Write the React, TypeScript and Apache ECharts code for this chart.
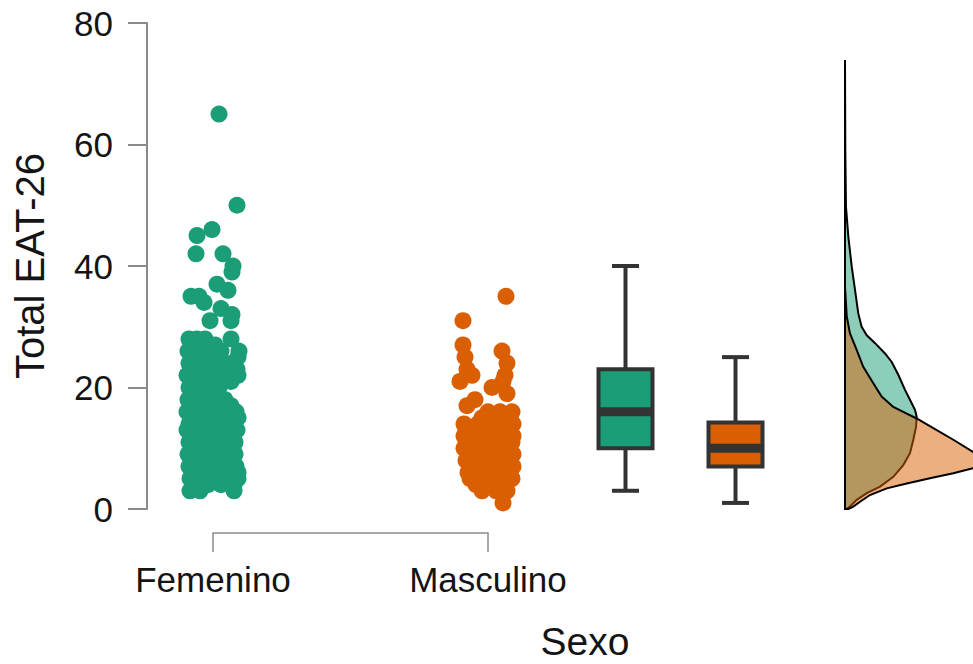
import React, { useEffect, useRef } from 'react';
import * as echarts from 'echarts';

const categories = ['Femenino', 'Masculino'];
const yMin = 0;
const yMax = 80;
const yInterval = 20;

// Each row: [Total EAT-26 value, horizontal jitter offsets of the points at that value]
// jitter is expressed in 1/275 of the spacing between the two categories
const femeninoRows: [number, number[]][] = [
  [65, [6]],
  [50, [24]],
  [46, [-1]],
  [45, [-16]],
  [42, [-17, 10]],
  [40, [20]],
  [39, [19]],
  [37, [4]],
  [36, [15]],
  [35, [-22, -14]],
  [34, [-9]],
  [33, [8]],
  [32, [19]],
  [31, [-3, 18]],
  [28, [-24, -16, -8, 18]],
  [27, [-22, -11, 2]],
  [26, [-25, -14, -3, 8, 26]],
  [25, [-20, -6, 5, 25]],
  [24, [-24, -13, 0, 11, 19]],
  [23, [-18, -6, 6, 24]],
  [22, [-26, -14, -2, 10, 25]],
  [21, [-21, -8, 3, 18]],
  [20, [-24, -12, 0, 6]],
  [19, [-19, -6, 5]],
  [18, [-25, -14, 2, 12]],
  [17, [-22, -5, 8, 18]],
  [16, [-26, -11, 2, 14, 23]],
  [15, [-19, -6, 6, 25]],
  [14, [-24, -12, 0, 11, 21]],
  [13, [-26, -16, -3, 8, 24]],
  [12, [-21, -8, 3, 16]],
  [11, [-24, -13, 2, 13, 22]],
  [10, [-18, -5, 8, 20]],
  [9, [-25, -11, 0, 11, 22]],
  [8, [-21, -6, 5, 18]],
  [7, [-24, -14, -2, 10, 23]],
  [6, [-19, -8, 3, 16, 25]],
  [5, [-23, -11, 0, 13, 25]],
  [4, [-16, -5, 8, 21]],
  [3, [-23, -13, 21]],
];

const masculinoRows: [number, number[]][] = [
  [35, [18]],
  [31, [-25]],
  [27, [-25]],
  [26, [14]],
  [25, [-23]],
  [24, [19]],
  [23, [-21]],
  [22, [-16, 17]],
  [21, [-28, 15]],
  [20, [4]],
  [19, [19]],
  [18, [-13]],
  [17, [-21]],
  [16, [0, 12, 24]],
  [15, [-6, 8, 22]],
  [14, [-24, -10, 4, 18, 25]],
  [13, [-22, -8, 6, 20]],
  [12, [-24, -12, 2, 14, 25]],
  [11, [-20, -4, 10, 24]],
  [10, [-24, -10, 4, 18]],
  [9, [-18, -4, 10, 25]],
  [8, [-22, -8, 6, 20]],
  [7, [-16, -2, 12, 25]],
  [6, [-20, -6, 8, 22]],
  [5, [-18, -4, 10, 24]],
  [4, [-12, 2, 16]],
  [3, [-6, 8, 19]],
  [1, [15]],
];

// Box plot statistics: [min, Q1, median, Q3, max]
const femeninoBox = [3, 10, 16, 23, 40];
const masculinoBox = [1, 7, 10, 14.25, 25];

// Density curves: [value, density]
const femeninoDensity: [number, number][] = [
  [73.9, 0], [59.1, 0.0002], [49.8, 0.0006], [44.8, 0.0021], [39.9, 0.0042],
  [36.0, 0.0063], [32.2, 0.0083], [30.0, 0.0104], [28.6, 0.0136], [27.3, 0.0188],
  [25.6, 0.025], [24.2, 0.0292], [22.1, 0.0333], [19.6, 0.0375], [17.4, 0.0417],
  [16.3, 0.0438], [15.2, 0.0448], [13.5, 0.0444], [11.4, 0.0427], [9.2, 0.0406],
  [7.2, 0.0364], [5.3, 0.0302], [3.7, 0.0219], [2.6, 0.0136], [1.5, 0.0073],
  [0.4, 0.0031], [0, 0.001], [0, 0],
];
const masculinoDensity: [number, number][] = [
  [36.6, 0], [31.7, 0.0011], [28.9, 0.0031], [26.2, 0.0073], [23.4, 0.0114],
  [20.7, 0.0177], [18.5, 0.0229], [16.8, 0.0302], [15.7, 0.0386], [14.9, 0.0448],
  [13.3, 0.0552], [11.4, 0.0677], [9.4, 0.08], [8.3, 0.0862], [7.7, 0.0875],
  [7.1, 0.0855], [6.7, 0.08], [5.9, 0.0677], [5.05, 0.0531], [4.2, 0.0386],
  [3.4, 0.0261], [2.3, 0.0156], [1.2, 0.0094], [0.4, 0.0052], [0, 0.0021], [0, 0],
];

const GREEN = '#1b9e77';
const ORANGE = '#d95f02';
const FONT = '"Liberation Sans", Arial, Helvetica, sans-serif';
const TEXT = '#141414';
const AXIS = '#8a8a8a';

export default function App() {
  const ref = useRef<HTMLDivElement>(null);

  useEffect(() => {
    document.body.style.margin = '0';
    if (!ref.current) return;
    const chart = echarts.init(ref.current, undefined, { renderer: 'svg' });

    const jitterScale = 1 / 275;
    const femPts = femeninoRows.flatMap(([v, js]) => js.map((j) => [1 + j * jitterScale, v]));
    const masPts = masculinoRows.flatMap(([v, js]) => js.map((j) => [2 + j * jitterScale, v]));
    const boxColors = [GREEN, ORANGE];

    const densitySeries = (dens: [number, number][], color: string) => ({
      type: 'custom',
      xAxisIndex: 2,
      yAxisIndex: 2,
      data: [[0, 0]],
      encode: { x: 0, y: 1 },
      silent: true,
      renderItem: (_params: any, api: any) => {
        const pts = dens.map(([v, d]) => api.coord([d, v]));
        return {
          type: 'polygon',
          shape: { points: pts },
          style: { fill: color, opacity: 1, stroke: '#000', lineWidth: 2 },
        };
      },
    });

    const option: any = {
      animation: false,
      textStyle: { fontFamily: FONT },
      grid: [
        { left: 147, right: 0, top: 23, bottom: 155 },
        { left: 213, right: 485, top: 520, bottom: 131 },
        { left: 845, right: 0, top: 23, bottom: 155 },
      ],
      xAxis: [
        { gridIndex: 0, type: 'value', min: 0.76, max: 3.7636, show: false },
        {
          gridIndex: 1,
          type: 'category',
          data: categories,
          boundaryGap: false,
          axisLine: { show: true, lineStyle: { color: AXIS, width: 1.5 } },
          axisTick: { show: true, length: 19, lineStyle: { color: AXIS, width: 1.5 } },
          axisLabel: { interval: 0, fontSize: 35, color: TEXT, margin: 29, fontFamily: FONT },
          splitLine: { show: false },
        },
        { gridIndex: 2, type: 'value', min: 0, max: 0.08, show: false },
      ],
      yAxis: [
        {
          gridIndex: 0,
          type: 'value',
          min: yMin,
          max: yMax,
          interval: yInterval,
          axisLine: { show: true, lineStyle: { color: AXIS, width: 2 } },
          axisTick: { show: true, length: 19, lineStyle: { color: AXIS, width: 2 } },
          axisLabel: { fontSize: 35, color: TEXT, margin: 34, fontFamily: FONT },
          splitLine: { show: false },
          name: 'Total EAT-26',
          nameLocation: 'middle',
          nameGap: 97,
          nameTextStyle: { fontSize: 40, color: TEXT, fontFamily: FONT },
        },
        { gridIndex: 1, type: 'value', show: false },
        { gridIndex: 2, type: 'value', min: yMin, max: yMax, show: false },
      ],
      graphic: [
        {
          type: 'text',
          x: 585,
          y: 641,
          style: {
            text: 'Sexo',
            fontSize: 39,
            lineHeight: 34,
            fontFamily: FONT,
            fill: TEXT,
            align: 'center',
            verticalAlign: 'middle',
          },
        },
      ],
      series: [
        {
          type: 'scatter',
          name: categories[0],
          xAxisIndex: 0,
          yAxisIndex: 0,
          data: femPts,
          symbolSize: 17,
          itemStyle: { color: GREEN, opacity: 1 },
        },
        {
          type: 'scatter',
          name: categories[1],
          xAxisIndex: 0,
          yAxisIndex: 0,
          data: masPts,
          symbolSize: 17,
          itemStyle: { color: ORANGE, opacity: 1 },
        },
        {
          type: 'custom',
          xAxisIndex: 0,
          yAxisIndex: 0,
          data: [
            [2.5, ...femeninoBox],
            [2.9, ...masculinoBox],
          ],
          encode: { x: 0, y: [1, 2, 3, 4, 5] },
          renderItem: (params: any, api: any) => {
            const x = api.value(0);
            const mn = api.coord([x, api.value(1)]);
            const q1 = api.coord([x, api.value(2)]);
            const md = api.coord([x, api.value(3)]);
            const q3 = api.coord([x, api.value(4)]);
            const mx = api.coord([x, api.value(5)]);
            const cx = mn[0];
            const hw = 27;
            const cap = 13.5;
            const ls = { stroke: '#333333', lineWidth: 4 };
            return {
              type: 'group',
              children: [
                { type: 'line', shape: { x1: cx, y1: q3[1], x2: cx, y2: mx[1] }, style: ls },
                { type: 'line', shape: { x1: cx - cap, y1: mx[1], x2: cx + cap, y2: mx[1] }, style: ls },
                { type: 'line', shape: { x1: cx, y1: q1[1], x2: cx, y2: mn[1] }, style: ls },
                { type: 'line', shape: { x1: cx - cap, y1: mn[1], x2: cx + cap, y2: mn[1] }, style: ls },
                {
                  type: 'rect',
                  shape: { x: cx - hw, y: q3[1], width: hw * 2, height: q1[1] - q3[1] },
                  style: { fill: boxColors[params.dataIndex], stroke: '#333333', lineWidth: 4 },
                },
                {
                  type: 'line',
                  shape: { x1: cx - hw, y1: md[1], x2: cx + hw, y2: md[1] },
                  style: { stroke: '#333333', lineWidth: 9 },
                },
              ],
            };
          },
        },
        densitySeries(femeninoDensity, 'rgba(27,158,119,0.5)'),
        densitySeries(masculinoDensity, 'rgba(217,95,2,0.5)'),
      ],
    };

    chart.setOption(option);
    return () => chart.dispose();
  }, []);

  return <div ref={ref} style={{ width: 973, height: 664 }} />;
}
